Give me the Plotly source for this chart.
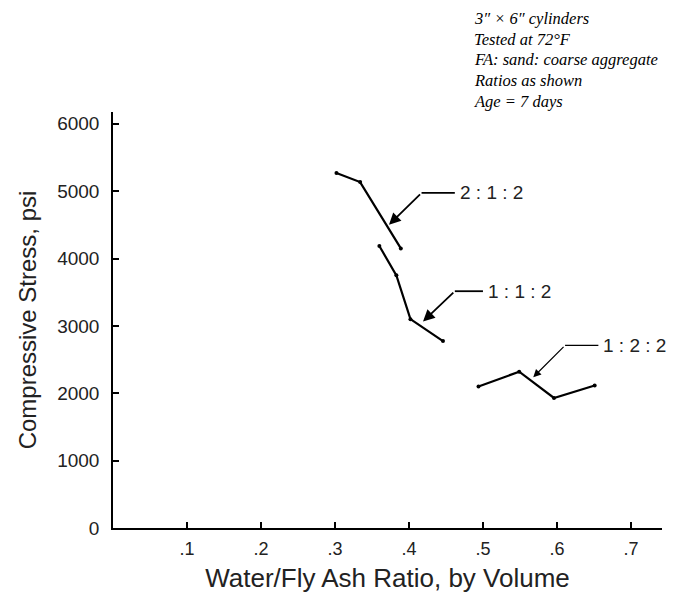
import plotly.graph_objects as go

# Data
x_212 = [0.302, 0.334, 0.389]
y_212 = [5270, 5135, 4150]

x_112 = [0.360, 0.383, 0.402, 0.446]
y_112 = [4185, 3750, 3100, 2775]

x_122 = [0.494, 0.549, 0.596, 0.651]
y_122 = [2100, 2320, 1930, 2115]

series_names = ["2 : 1 : 2", "1 : 1 : 2", "1 : 2 : 2"]

x_tickvals = [0.1, 0.2, 0.3, 0.4, 0.5, 0.6, 0.7]
x_ticktext = [".1", ".2", ".3", ".4", ".5", ".6", ".7"]
y_tickvals = [0, 1000, 2000, 3000, 4000, 5000, 6000]

# Leader callouts: (tip x, tip y, bend x, bend y, line end x)
callouts = [
    (0.373, 4500, 0.417, 4975, 0.462),
    (0.419, 3066, 0.462, 3515, 0.500),
    (0.568, 2238, 0.611, 2711, 0.656),
]

notes = ["3\u2033 \u00d7 6\u2033 cylinders", "Tested at 72\u00b0F",
         "FA: sand: coarse aggregate", "Ratios as shown", "Age = 7 days"]

# layout geometry (pixels)
W, H = 673, 599
L, R, T, B = 113, 11, 112, 64
plot_h = H - T - B

fig = go.Figure()
for xs, ys, nm in zip([x_212, x_112, x_122], [y_212, y_112, y_122], series_names):
    fig.add_trace(go.Scatter(x=xs, y=ys, mode="lines+markers", name=nm,
                             line=dict(color="black", width=2.2),
                             marker=dict(color="black", size=4),
                             showlegend=False, hoverinfo="skip"))

for i, ((tx, ty, bx, by, ex), nm) in enumerate(zip(callouts, series_names)):
    w = 1.2 if i == 2 else 1.8
    fig.add_trace(go.Scatter(x=[bx, ex], y=[by, by], mode="lines",
                             line=dict(color="black", width=w),
                             showlegend=False, hoverinfo="skip"))
    fig.add_annotation(x=tx, y=ty, ax=bx, ay=by, axref="x", ayref="y",
                       xref="x", yref="y", text="", showarrow=True,
                       arrowhead=2, arrowsize=1.3, arrowwidth=w, arrowcolor="black")
    fig.add_annotation(x=ex, y=by, xref="x", yref="y", text=nm, showarrow=False,
                       xanchor="left", yanchor="middle", xshift=3,
                       font=dict(family="Liberation Sans, Arial", size=19, color="#222"))

note_y_px = [17, 38, 59, 80, 101]
for t, py in zip(notes, note_y_px):
    fig.add_annotation(x=(472 - L) / (W - L - R), y=(H - B - py) / plot_h,
                       xref="paper", yref="paper", text=f"<i>{t}</i>",
                       showarrow=False, xanchor="left", yanchor="middle",
                       font=dict(family="Liberation Serif, Times New Roman", size=16.5,
                                 color="black"))

fig.update_layout(
    width=W, height=H,
    margin=dict(l=L, r=R, t=T, b=B),
    paper_bgcolor="white", plot_bgcolor="white",
    font=dict(family="Liberation Sans, Arial", color="#222"),
)
fig.update_xaxes(range=[0, 0.742], tickvals=x_tickvals, ticktext=x_ticktext,
                 ticks="inside", ticklen=6, tickwidth=1.5, tickcolor="black",
                 showline=True, linecolor="black", linewidth=1.5,
                 showgrid=False, zeroline=False, ticklabelstandoff=4,
                 tickfont=dict(size=18, color="#222"),
                 title=dict(text="Water/Fly Ash Ratio, by Volume", standoff=10,
                            font=dict(size=26, color="#222")))
fig.update_yaxes(range=[0, 6175], tickvals=y_tickvals,
                 ticks="inside", ticklen=6, tickwidth=1.5, tickcolor="black",
                 showline=True, linecolor="black", linewidth=1.5,
                 showgrid=False, zeroline=False, ticklabelstandoff=8,
                 tickfont=dict(size=19, color="#222"),
                 title=dict(text="Compressive Stress, psi", standoff=14,
                            font=dict(size=24, color="#222")))

fig.write_html("out.html")
